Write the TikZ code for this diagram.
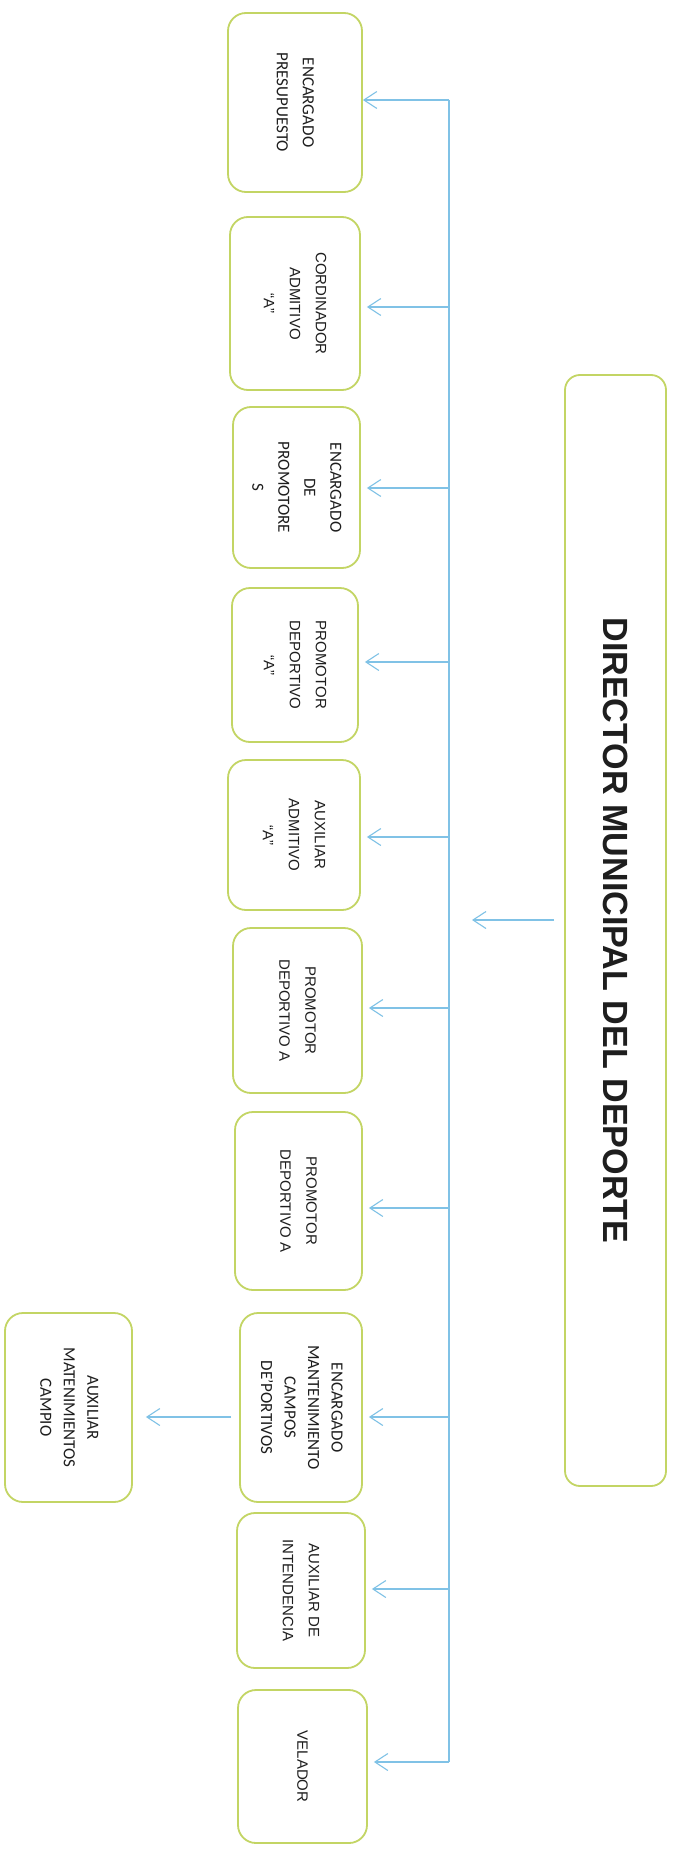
\documentclass[tikz,border=0pt]{standalone}
\usepackage{fontspec}
\usepackage{graphicx}
\setmainfont{Carlito}
\newfontfamily\arialf{Liberation Sans}
\usetikzlibrary{arrows.meta,calc}
\definecolor{boxline}{RGB}{195,213,100}
\definecolor{conn}{RGB}{128,194,230}
\definecolor{txt}{RGB}{30,30,30}
\newcommand\caltxt[1]{\rotatebox{-90}{\fontsize{17}{26}\selectfont\begin{tabular}{@{}c@{}}#1\end{tabular}}}
\newcommand\caltxtb[1]{\rotatebox{-90}{\fontsize{17}{23.5}\selectfont\begin{tabular}{@{}c@{}}#1\end{tabular}}}
\newcommand\aritxt[1]{\rotatebox{-90}{\arialf\fontsize{15}{26}\selectfont\begin{tabular}{@{}c@{}}#1\end{tabular}}}
\begin{document}
\begin{tikzpicture}[x=1pt,y=-1pt,
  orgbox/.style={draw=boxline,line width=1.8pt,rounded corners=18pt,fill=white,text=txt,inner sep=0pt},
  arr/.style={draw=conn,line width=1.1pt,-{Straight Barb[length=13pt,width=17pt,line width=1.1pt]}},
  spine/.style={draw=conn,line width=1.1pt}]
\useasboundingbox (0,0) rectangle (672,1851);
\fill[white] (0,0) rectangle (672,1851);

% director
\node[orgbox,rounded corners=15pt,minimum width=101pt,minimum height=1111pt] (dir) at (615.5,930.5)
  {\rotatebox{-90}{\resizebox{626pt}{\height}{\arialf\bfseries\fontsize{35}{35}\selectfont DIRECTOR MUNICIPAL DEL DEPORTE}}};

% subordinate boxes
\node[orgbox,minimum width=134pt,minimum height=179pt] (b1) at (295,102.5) {\caltxt{ENCARGADO\\PRESUPUESTO}};
\node[orgbox,minimum width=130pt,minimum height=173pt] (b2) at (295,303.5) {\aritxt{CORDINADOR\\ADMITIVO\\“A”}};
\node[orgbox,minimum width=127pt,minimum height=161pt] (b3) at (296.5,487.5) {\caltxt{ENCARGADO\\DE\\PROMOTORE\\S}};
\node[orgbox,minimum width=126pt,minimum height=154pt] (b4) at (295,665) {\aritxt{PROMOTOR\\DEPORTIVO\\“A”}};
\node[orgbox,minimum width=132pt,minimum height=150pt] (b5) at (294,835) {\aritxt{AUXILIAR\\ADMITIVO\\“A”}};
\node[orgbox,minimum width=129pt,minimum height=165pt] (b6) at (297.5,1010.5) {\aritxt{PROMOTOR\\DEPORTIVO A}};
\node[orgbox,minimum width=127pt,minimum height=178pt] (b7) at (298.5,1201) {\aritxt{PROMOTOR\\DEPORTIVO A}};
\node[orgbox,minimum width=122pt,minimum height=189pt] (b8) at (301,1407.5) {\caltxtb{ENCARGADO\\MANTENIMIENTO\\CAMPOS\\DE’PORTIVOS}};
\node[orgbox,minimum width=127pt,minimum height=189pt] (b9) at (68.5,1407.5) {\caltxtb{AUXILIAR\\MATENIMIENTOS\\CAMPIO}};
\node[orgbox,minimum width=128pt,minimum height=155pt] (b10) at (301,1590.5) {\aritxt{AUXILIAR DE\\INTENDENCIA}};
\node[orgbox,minimum width=129pt,minimum height=153pt] (b11) at (302.5,1766.5) {\aritxt{VELADOR}};

% spine junctions
\coordinate (j1) at (449,100);
\coordinate (j2) at (449,307);
\coordinate (j3) at (449,488);
\coordinate (j4) at (449,662);
\coordinate (j5) at (449,837);
\coordinate (j6) at (449,1008);
\coordinate (j7) at (449,1208);
\coordinate (j8) at (449,1417);
\coordinate (j10) at (449,1589);
\coordinate (j11) at (449,1762);
\coordinate (dtip) at (472,920);

\draw[spine] (j1) -- (j11);

\draw[arr,shorten <=10pt] (dir.west |- dtip) -- (dtip);

\draw[arr] (j1) -- (j1 -| b1.east);
\foreach \i in {2,3,4,5,6,7,8,10,11}{
  \draw[arr,shorten >=6pt] (j\i) -- (j\i -| b\i.east);
}
\draw[arr,shorten <=8pt,shorten >=13pt] (j8 -| b8.west) -- (j8 -| b9.east);
\end{tikzpicture}
\end{document}
